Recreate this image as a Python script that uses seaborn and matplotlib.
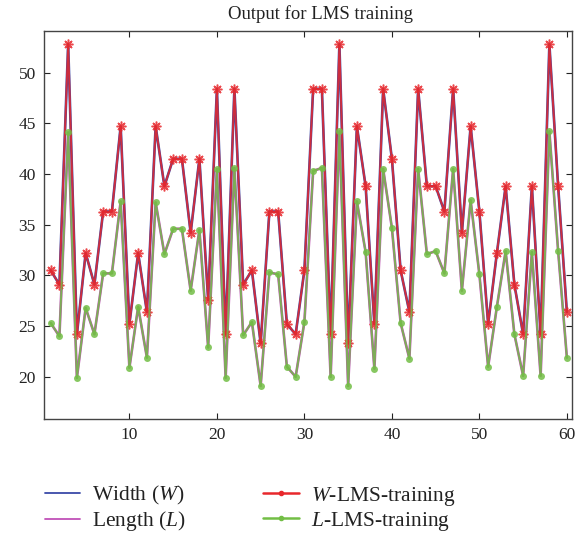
import numpy as np
import pandas as pd
import matplotlib
matplotlib.use("Agg")
import matplotlib.pyplot as plt
import seaborn as sns
from matplotlib.lines import Line2D

samples = list(range(1, 61))
w_train = [30.5, 29.1, 52.8, 24.2, 32.2, 29.1, 36.3, 36.3, 44.7, 25.2,
           32.2, 26.4, 44.7, 38.8, 41.5, 41.5, 34.2, 41.5, 27.6, 48.4,
           24.2, 48.4, 29.1, 30.5, 23.3, 36.3, 36.3, 25.2, 24.2, 30.5,
           48.4, 48.4, 24.2, 52.8, 23.3, 44.7, 38.8, 25.2, 48.4, 41.5,
           30.5, 26.4, 48.4, 38.8, 38.8, 36.3, 48.4, 34.2, 44.7, 36.3,
           25.2, 32.2, 38.8, 29.1, 24.2, 38.8, 24.2, 52.8, 38.8, 26.4]
l_train = [25.3, 24.0, 44.1, 19.9, 26.8, 24.2, 30.2, 30.2, 37.3, 20.9,
           26.9, 21.9, 37.2, 32.1, 34.6, 34.6, 28.5, 34.5, 22.9, 40.5,
           19.9, 40.6, 24.1, 25.4, 19.1, 30.3, 30.1, 21.0, 20.0, 25.4,
           40.3, 40.6, 20.0, 44.2, 19.1, 37.3, 32.3, 20.8, 40.5, 34.7,
           25.3, 21.8, 40.5, 32.1, 32.4, 30.2, 40.5, 28.5, 37.4, 30.1,
           21.0, 26.9, 32.4, 24.2, 20.1, 32.3, 20.1, 44.2, 32.4, 21.9]
width_true = list(w_train)
length_true = list(l_train)

sns.set_theme(style="white")
plt.rcParams["font.family"] = ["Liberation Serif", "DejaVu Serif"]
plt.rcParams["mathtext.fontset"] = "custom"
plt.rcParams["mathtext.rm"] = "Liberation Serif"
plt.rcParams["mathtext.it"] = "Liberation Serif:italic"

fig = plt.figure(figsize=(5.88, 5.35), dpi=100)
ax = fig.add_axes([0.075, 0.217, 0.898, 0.725])

sns.lineplot(x=samples, y=width_true, ax=ax, color="#3a4aa8", lw=1.9,
             label="Width ($W$)")
sns.lineplot(x=samples, y=length_true, ax=ax, color="#c050b8", lw=1.9,
             label="Length ($L$)")
sns.lineplot(x=samples, y=w_train, ax=ax, color="#e8282c", lw=1.4, alpha=0.85,
             marker=(8, 2, 0), markersize=7, markeredgewidth=1.1,
             markeredgecolor="#e8282c", label="$W$-LMS-training")
sns.lineplot(x=samples, y=l_train, ax=ax, color="#72be45", lw=1.4, alpha=0.85,
             marker="o", markersize=5, markeredgewidth=0,
             label="$L$-LMS-training")

ax.set_xlim(0.25, 60.6)
ax.set_ylim(15.85, 54.1)
ax.set_xticks([10, 20, 30, 40, 50, 60])
ax.set_yticks([20, 25, 30, 35, 40, 45, 50])
ax.tick_params(direction="in", length=4, width=0.8, top=True, right=True,
               labelsize=12.5, colors="#222222", bottom=True, left=True, pad=6)
for s in ax.spines.values():
    s.set_color("#444444")
    s.set_linewidth(1.0)
ax.set_title("Output for LMS training", fontsize=13.5, color="#222222",
             pad=9, x=0.523)

h, l = ax.get_legend_handles_labels()
handles = [Line2D([], [], color="#3a4aa8", lw=1.3),
           Line2D([], [], color="#c050b8", lw=1.3),
           Line2D([], [], color="#e8282c", lw=1.8, marker="o", markersize=3),
           Line2D([], [], color="#72be45", lw=1.8, marker="o", markersize=3)]
ax.legend(handles, l, ncol=2, frameon=False, fontsize=15.5,
          loc="upper left", bbox_to_anchor=(0.002, -0.168),
          borderaxespad=0, borderpad=0,
          handlelength=1.63, handletextpad=0.56, columnspacing=3.6,
          labelspacing=0.1, labelcolor="#222222")

fig.savefig("out.png", dpi=100)
